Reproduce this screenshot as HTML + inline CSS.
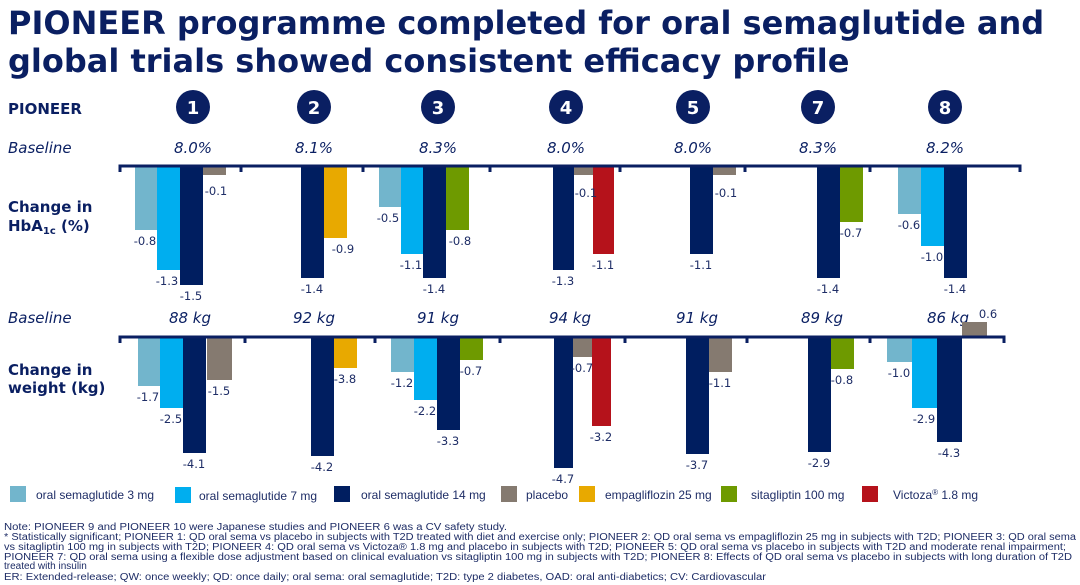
<!DOCTYPE html>
<html><head><meta charset="utf-8"><style>
html,body{margin:0;padding:0;background:#fff;}
svg{display:block;}
</style></head><body>
<svg width="1080" height="585" viewBox="0 0 1080 585" xmlns="http://www.w3.org/2000/svg" font-family="'DejaVu Sans', Verdana, sans-serif">
<g fill="#0a1f62" font-weight="bold" font-size="32">
<text x="8" y="34">PIONEER programme completed for oral semaglutide and</text>
<text x="8" y="72">global trials showed consistent efficacy profile</text>
</g>
<text x="8" y="114" fill="#0a1f62" font-weight="bold" font-size="15">PIONEER</text>
<g fill="#0a1f62">
<circle cx="193" cy="107" r="17"/><circle cx="314" cy="107" r="17"/><circle cx="438" cy="107" r="17"/><circle cx="566" cy="107" r="17"/><circle cx="693" cy="107" r="17"/><circle cx="818" cy="107" r="17"/><circle cx="945" cy="107" r="17"/>
</g>
<g fill="#fff" font-weight="bold" font-size="18" text-anchor="middle">
<text x="193" y="114">1</text><text x="314" y="114">2</text><text x="438" y="114">3</text><text x="566" y="114">4</text><text x="693" y="114">5</text><text x="818" y="114">7</text><text x="945" y="114">8</text>
</g>
<g fill="#0a1f62" font-style="italic" font-size="15">
<text x="8" y="153">Baseline</text>
<text x="8" y="323">Baseline</text>
</g>
<g fill="#0a1f62" font-style="italic" font-size="15" text-anchor="middle">
<text x="193" y="153">8.0%</text><text x="314" y="153">8.1%</text><text x="438" y="153">8.3%</text><text x="566" y="153">8.0%</text><text x="693" y="153">8.0%</text><text x="818" y="153">8.3%</text><text x="945" y="153">8.2%</text>
<text x="190" y="323">88 kg</text><text x="314" y="323">92 kg</text><text x="438" y="323">91 kg</text><text x="570" y="323">94 kg</text><text x="697" y="323">91 kg</text><text x="822" y="323">89 kg</text><text x="948" y="323">86 kg</text>
</g>
<g fill="#0a1f62" font-weight="bold" font-size="15">
<text x="8" y="212">Change in</text>
<text x="8" y="231">HbA<tspan font-size="10" dy="3">1c</tspan><tspan dy="-3"> (%)</tspan></text>
<text x="8" y="375">Change in</text>
<text x="8" y="393">weight (kg)</text>
</g>
<!-- HbA1c bars -->
<g>
<rect x="135" y="167" width="22" height="63" fill="#72b5cc"/>
<rect x="157" y="167" width="23" height="103" fill="#00aeef"/>
<rect x="180" y="167" width="23" height="118" fill="#001e60"/>
<rect x="203" y="167" width="23" height="8" fill="#857a70"/>
<rect x="301" y="167" width="23" height="111" fill="#001e60"/>
<rect x="324" y="167" width="23" height="71" fill="#e8a900"/>
<rect x="379" y="167" width="22" height="40" fill="#72b5cc"/>
<rect x="401" y="167" width="22" height="87" fill="#00aeef"/>
<rect x="423" y="167" width="23" height="111" fill="#001e60"/>
<rect x="446" y="167" width="23" height="63" fill="#6e9a00"/>
<rect x="553" y="167" width="21" height="103" fill="#001e60"/>
<rect x="574" y="167" width="19" height="8" fill="#857a70"/>
<rect x="593" y="167" width="21" height="87" fill="#b5121b"/>
<rect x="690" y="167" width="23" height="87" fill="#001e60"/>
<rect x="713" y="167" width="23" height="8" fill="#857a70"/>
<rect x="817" y="167" width="23" height="111" fill="#001e60"/>
<rect x="840" y="167" width="23" height="55" fill="#6e9a00"/>
<rect x="898" y="167" width="23" height="47" fill="#72b5cc"/>
<rect x="921" y="167" width="23" height="79" fill="#00aeef"/>
<rect x="944" y="167" width="23" height="111" fill="#001e60"/>
</g>
<g stroke="#0a1f62" stroke-width="3" fill="none">
<path d="M120 172 V166 H1020 V172 M241 166 V172 M363 166 V172 M490 166 V172 M620 166 V172 M745 166 V172 M870 166 V172"/>
</g>
<!-- weight bars -->
<g>
<rect x="138" y="338" width="22" height="48" fill="#72b5cc"/>
<rect x="160" y="338" width="23" height="70" fill="#00aeef"/>
<rect x="183" y="338" width="23" height="115" fill="#001e60"/>
<rect x="207" y="338" width="25" height="42" fill="#857a70"/>
<rect x="311" y="338" width="23" height="118" fill="#001e60"/>
<rect x="334" y="338" width="23" height="30" fill="#e8a900"/>
<rect x="391" y="338" width="23" height="34" fill="#72b5cc"/>
<rect x="414" y="338" width="23" height="62" fill="#00aeef"/>
<rect x="437" y="338" width="23" height="92" fill="#001e60"/>
<rect x="460" y="338" width="23" height="22" fill="#6e9a00"/>
<rect x="554" y="338" width="19" height="130" fill="#001e60"/>
<rect x="573" y="338" width="19" height="19" fill="#857a70"/>
<rect x="592" y="338" width="19" height="88" fill="#b5121b"/>
<rect x="686" y="338" width="23" height="116" fill="#001e60"/>
<rect x="709" y="338" width="23" height="34" fill="#857a70"/>
<rect x="808" y="338" width="23" height="114" fill="#001e60"/>
<rect x="831" y="338" width="23" height="31" fill="#6e9a00"/>
<rect x="887" y="338" width="25" height="24" fill="#72b5cc"/>
<rect x="912" y="338" width="25" height="70" fill="#00aeef"/>
<rect x="937" y="338" width="25" height="104" fill="#001e60"/>
<rect x="962" y="322" width="25" height="14" fill="#857a70"/>
</g>
<g stroke="#0a1f62" stroke-width="3" fill="none">
<path d="M120 343 V337 H1004 V343 M245 337 V343 M375 337 V343 M500 337 V343 M625 337 V343 M747 337 V343 M870 337 V343"/>
</g>
<g fill="#1e2d66" font-size="11.5" text-anchor="middle">
<text x="145" y="245">-0.8</text><text x="167" y="285">-1.3</text><text x="191" y="300">-1.5</text><text x="216" y="195">-0.1</text>
<text x="312" y="293">-1.4</text><text x="343" y="253">-0.9</text>
<text x="388" y="222">-0.5</text><text x="411" y="269">-1.1</text><text x="434" y="293">-1.4</text><text x="460" y="245">-0.8</text>
<text x="563" y="285">-1.3</text><text x="586" y="197">-0.1</text><text x="603" y="269">-1.1</text>
<text x="701" y="269">-1.1</text><text x="726" y="197">-0.1</text>
<text x="828" y="293">-1.4</text><text x="851" y="237">-0.7</text>
<text x="909" y="229">-0.6</text><text x="932" y="261">-1.0</text><text x="955" y="293">-1.4</text>
<text x="148" y="401">-1.7</text><text x="171" y="423">-2.5</text><text x="194" y="468">-4.1</text><text x="219" y="395">-1.5</text>
<text x="322" y="471">-4.2</text><text x="345" y="383">-3.8</text>
<text x="402" y="387">-1.2</text><text x="425" y="415">-2.2</text><text x="448" y="445">-3.3</text><text x="471" y="375">-0.7</text>
<text x="563" y="483">-4.7</text><text x="582" y="372">-0.7</text><text x="601" y="441">-3.2</text>
<text x="697" y="469">-3.7</text><text x="720" y="387">-1.1</text>
<text x="819" y="467">-2.9</text><text x="842" y="384">-0.8</text>
<text x="899" y="377">-1.0</text><text x="924" y="423">-2.9</text><text x="949" y="457">-4.3</text><text x="988" y="318">0.6</text>
</g>
<!-- legend -->
<g font-family="'Liberation Sans', sans-serif" font-size="12" fill="#1e2d66">
<rect x="10" y="486" width="16" height="16" fill="#72b5cc"/><text x="36" y="499">oral semaglutide 3 mg</text>
<rect x="175" y="487" width="16" height="16" fill="#00aeef"/><text x="199" y="500">oral semaglutide 7 mg</text>
<rect x="334" y="486" width="16" height="16" fill="#001e60"/><text x="361" y="499">oral semaglutide 14 mg</text>
<rect x="501" y="486" width="16" height="16" fill="#857a70"/><text x="526" y="499">placebo</text>
<rect x="579" y="486" width="16" height="16" fill="#e8a900"/><text x="605" y="499">empagliflozin 25 mg</text>
<rect x="721" y="486" width="16" height="16" fill="#6e9a00"/><text x="751" y="499">sitagliptin 100 mg</text>
<rect x="862" y="486" width="16" height="16" fill="#b5121b"/><text x="893" y="499">Victoza<tspan font-size="8" dy="-4">®</tspan><tspan dy="4"> 1.8 mg</tspan></text>
</g>
<g font-family="'Liberation Sans', sans-serif" font-size="10" fill="#1e2d66">
<text x="4" y="530" textLength="503" lengthAdjust="spacingAndGlyphs">Note: PIONEER 9 and PIONEER 10 were Japanese studies and PIONEER 6 was a CV safety study.</text>
<text x="4" y="540" textLength="1072" lengthAdjust="spacingAndGlyphs">* Statistically significant; PIONEER 1: QD oral sema vs placebo in subjects with T2D treated with diet and exercise only; PIONEER 2: QD oral sema vs empagliflozin 25 mg in subjects with T2D; PIONEER 3: QD oral sema</text>
<text x="4" y="550" textLength="1062" lengthAdjust="spacingAndGlyphs">vs sitagliptin 100 mg in subjects with T2D; PIONEER 4: QD oral sema vs Victoza® 1.8 mg and placebo in subjects with T2D; PIONEER 5: QD oral sema vs placebo in subjects with T2D and moderate renal impairment;</text>
<text x="4" y="560" textLength="1068" lengthAdjust="spacingAndGlyphs">PIONEER 7: QD oral sema using a flexible dose adjustment based on clinical evaluation vs sitagliptin 100 mg in subjects with T2D; PIONEER 8: Effects of QD oral sema vs placebo in subjects with long duration of T2D</text>
<text x="4" y="569">treated with insulin</text>
<text x="4" y="580" textLength="762" lengthAdjust="spacingAndGlyphs">ER: Extended-release; QW: once weekly; QD: once daily; oral sema: oral semaglutide; T2D: type 2 diabetes, OAD: oral anti-diabetics; CV: Cardiovascular</text>
</g>
</svg>
</body></html>
